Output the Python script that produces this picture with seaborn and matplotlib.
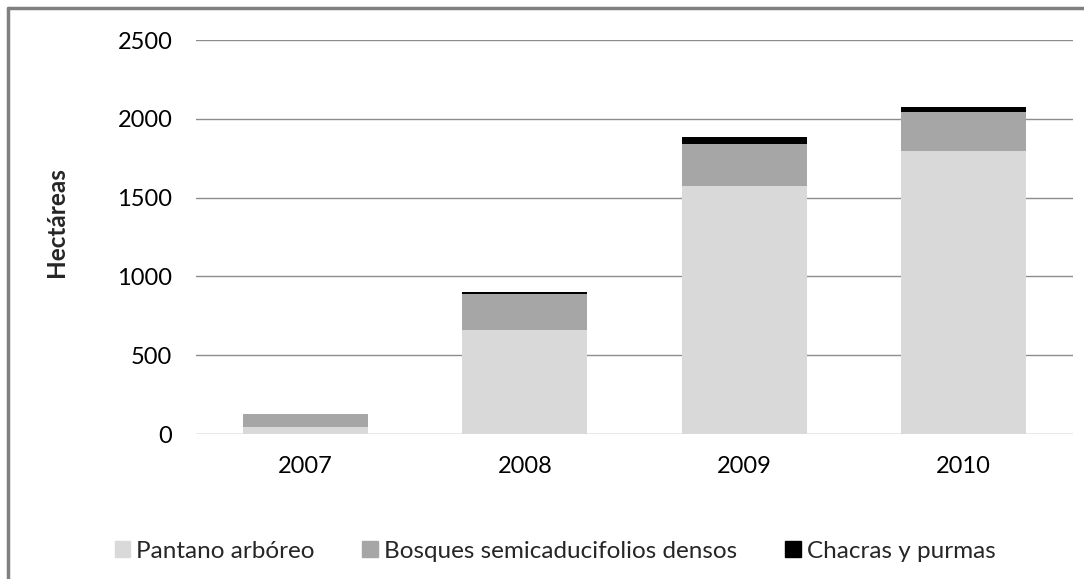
import matplotlib
matplotlib.use("Agg")
import matplotlib.pyplot as plt
import matplotlib.patches as mpatches
import pandas as pd
import seaborn as sns

years = ["2007", "2008", "2009", "2010"]
pantano = [45, 658, 1576, 1796]
bosques = [80, 231, 264, 246]
chacras = [0, 12, 44, 32]
series_names = ["Pantano arbóreo", "Bosques semicaducifolios densos", "Chacras y purmas"]
colors = ["#D9D9D9", "#A6A6A6", "#000000"]
y_ticks = [0, 500, 1000, 1500, 2000, 2500]

sns.set_style("white")
plt.rcParams["font.family"] = ["Lato", "DejaVu Sans"]

df = pd.DataFrame({"year": years, series_names[0]: pantano,
                   series_names[1]: bosques, series_names[2]: chacras})
# cumulative tops so we can draw stacked bars back to front
cum = df[series_names].cumsum(axis=1)
cum["year"] = df["year"]

fig = plt.figure(figsize=(10.84, 5.79), dpi=100)
ax = fig.add_axes([0.1808, 0.2504, 0.809, 0.6805])

for name, color in reversed(list(zip(series_names, colors))):
    sns.barplot(data=cum, x="year", y=name, color=color, width=0.57,
                saturation=1, ax=ax, zorder=3, linewidth=0)

ax.set_ylim(0, 2500)
ax.set_yticks(y_ticks)
ax.set_xlim(-0.5, 3.5)
ax.yaxis.grid(True, color="#8c8c8c", linewidth=1.0, zorder=0)
ax.set_axisbelow(True)
for s in ax.spines.values():
    s.set_visible(False)
ax.tick_params(axis="both", length=0, labelsize=17, colors="#000000")
ax.tick_params(axis="y", pad=17)
ax.tick_params(axis="x", pad=16)
ax.set_xlabel("")
ax.set_ylabel("")
fig.text(0.0517, 0.617, "Hectáreas", rotation=90, ha="center", va="center",
         fontsize=17.5, fontweight="bold")

handles = [mpatches.Patch(color=c, label=n) for n, c in zip(series_names, colors)]
fig.legend(handles=handles, loc="center", bbox_to_anchor=(0.512, 0.048), ncol=3,
           frameon=False, fontsize=17.5, handlelength=0.65, handleheight=0.65,
           handletextpad=0.25, columnspacing=1.95)

# outer chart frame (partly cut off in the original)
fig.add_artist(plt.Line2D([0.0075, 1.0], [0.986, 0.986], color="#808080", linewidth=2.5))
fig.add_artist(plt.Line2D([0.0075, 0.0075], [0.0, 0.986], color="#808080", linewidth=2.5))

fig.savefig("out.png", dpi=100)
